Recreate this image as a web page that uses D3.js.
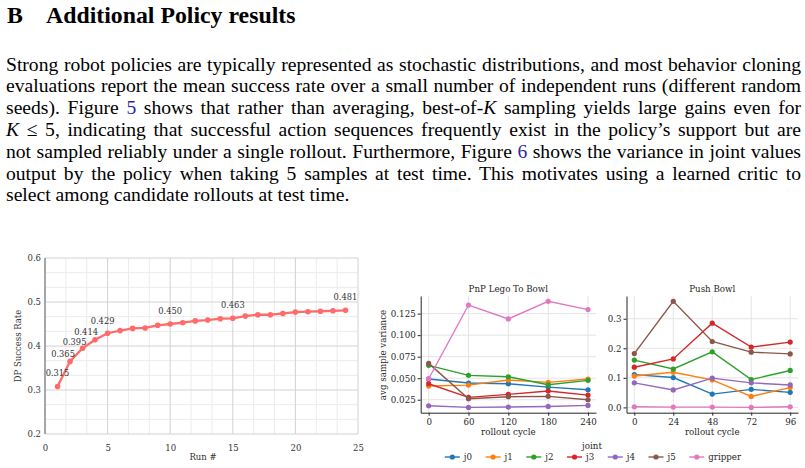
<!DOCTYPE html>
<html>
<head>
<meta charset="utf-8">
<script src="https://cdn.jsdelivr.net/npm/d3@7"></script>
<style>
body { margin: 0; background: #fff; }
svg { display: block; }
</style>
</head>
<body>
<script>
// ---- left chart: best-of-K success rate
var runs = [1, 2, 3, 4, 5, 6, 7, 8, 9, 10, 11, 12, 13, 14, 15, 16, 17, 18, 19, 20, 21, 22, 23, 24];
var successRate = [0.308, 0.365, 0.395, 0.414, 0.429, 0.435, 0.440, 0.441, 0.447, 0.450, 0.453, 0.457,
                   0.459, 0.462, 0.463, 0.468, 0.471, 0.471, 0.474, 0.477, 0.478, 0.479, 0.480, 0.481];
var labelRuns = [1, 2, 3, 4, 5, 10, 15, 24];
var labelTexts = ["0.315", "0.365", "0.395", "0.414", "0.429", "0.450", "0.463", "0.481"];
var leftXTicks = [0, 5, 10, 15, 20, 25];
var leftYTicks = [0.2, 0.3, 0.4, 0.5, 0.6];

// ---- right charts: joint variance
var joints = ["j0", "j1", "j2", "j3", "j4", "j5", "gripper"];
var jointColors = ["#1f77b4", "#ff7f0e", "#2ca02c", "#d62728", "#9467bd", "#8c564b", "#e377c2"];
var pnpCycles = [0, 60, 120, 180, 240];
var pnpVariance = [
  [0.0490, 0.0444, 0.0436, 0.0397, 0.0366],
  [0.0409, 0.0420, 0.0479, 0.0452, 0.0490],
  [0.0649, 0.0533, 0.0517, 0.0424, 0.0475],
  [0.0436, 0.0277, 0.0312, 0.0351, 0.0304],
  [0.0180, 0.0161, 0.0165, 0.0172, 0.0184],
  [0.0672, 0.0262, 0.0285, 0.0289, 0.0250],
  [0.0494, 0.1350, 0.1188, 0.1393, 0.1297]
];
var pnpYTicks = [0.025, 0.050, 0.075, 0.100, 0.125];
var pushCycles = [0, 24, 48, 72, 96];
var pushVariance = [
  [0.111, 0.101, 0.045, 0.061, 0.051],
  [0.106, 0.119, 0.093, 0.037, 0.067],
  [0.160, 0.130, 0.188, 0.094, 0.125],
  [0.136, 0.164, 0.285, 0.204, 0.221],
  [0.083, 0.059, 0.099, 0.083, 0.076],
  [0.182, 0.359, 0.223, 0.187, 0.181],
  [0.002, 0.001, 0.001, 0.000, 0.002]
];
var pushYTicks = [0.0, 0.1, 0.2, 0.3];

// ---- text
var heading = ["B", "Additional Policy results"];
var paraLines = [
  [["Strong robot policies are typically represented as stochastic distributions, and most behavior cloning"]],
  [["evaluations report the mean success rate over a small number of independent runs (different random"]],
  [["seeds). Figure "], ["5", "ref"], [" shows that rather than averaging, best-of-"], ["K", "i"], [" sampling yields large gains even for"]],
  [["K", "i"], [" \u2264 5, indicating that successful action sequences frequently exist in the policy\u2019s support but are"]],
  [["not sampled reliably under a single rollout. Furthermore, Figure "], ["6", "ref"], [" shows the variance in joint values"]],
  [["output by the policy when taking 5 samples at test time. This motivates using a learned critic to"]],
  [["select among candidate rollouts at test time."]]
];

var width = 805, height = 468;
var svg = d3.select("body").append("svg")
    .attr("width", width)
    .attr("height", height);

var serif = "'Liberation Serif', 'Times New Roman', serif";
var chartFont = "'DejaVu Serif', serif";

//heading
svg.append("text").attr("x", 7).attr("y", 23)
    .attr("font-family", serif).attr("font-weight", "bold").attr("font-size", 23.8)
    .text(heading[0]);
svg.append("text").attr("x", 46).attr("y", 23)
    .attr("font-family", serif).attr("font-weight", "bold").attr("font-size", 23.8)
    .text(heading[1]);

//paragraph, each line justified with word-spacing
var para = svg.append("g").attr("font-family", serif).attr("font-size", 19.6).attr("fill", "#000");
paraLines.forEach(function(segs, i) {
    var t = para.append("text")
        .attr("x", 6)
        .attr("y", 70.5 + i * 21.8)
        .style("white-space", "pre");
    segs.forEach(function(s) {
        t.append("tspan")
            .text(s[0])
            .attr("font-style", s[1] === "i" ? "italic" : null)
            .attr("fill", s[1] === "ref" ? "#2a2aa8" : null);
    });
    if (i < paraLines.length - 1) {
        var w = t.node().getComputedTextLength();
        var n = t.text().split(" ").length - 1;
        t.style("word-spacing", ((795 - w) / n) + "px");
    }
});

// ================= left chart =================
var xL = d3.scaleLinear().domain([0, 25]).range([45, 358]);
var yL = d3.scaleLinear().domain([0.2, 0.6]).range([434, 258]);

var left = svg.append("g").attr("font-family", chartFont);

//minor grid (3 steps per major)
var minorX = [], minorY = [];
for (var k = 0; k < leftXTicks.length - 1; k++) {
    var s = (leftXTicks[k + 1] - leftXTicks[k]) / 3;
    minorX.push(leftXTicks[k] + s, leftXTicks[k] + 2 * s);
}
for (var k = 0; k < leftYTicks.length - 1; k++) {
    var s = (leftYTicks[k + 1] - leftYTicks[k]) / 3;
    minorY.push(leftYTicks[k] + s, leftYTicks[k] + 2 * s);
}
left.append("g").selectAll("line").data(minorX).enter().append("line")
    .attr("x1", xL).attr("x2", xL).attr("y1", yL(0.2)).attr("y2", yL(0.6))
    .attr("stroke", "#ececec");
left.append("g").selectAll("line").data(minorY).enter().append("line")
    .attr("x1", xL(0)).attr("x2", xL(25)).attr("y1", yL).attr("y2", yL)
    .attr("stroke", "#ececec");
left.append("g").selectAll("line").data(leftXTicks).enter().append("line")
    .attr("x1", xL).attr("x2", xL).attr("y1", yL(0.2)).attr("y2", yL(0.6))
    .attr("stroke", "#d2d2d2");
left.append("g").selectAll("line").data(leftYTicks).enter().append("line")
    .attr("x1", xL(0)).attr("x2", xL(25)).attr("y1", yL).attr("y2", yL)
    .attr("stroke", "#d2d2d2");
//y axis line
left.append("line")
    .attr("x1", xL(0)).attr("x2", xL(0)).attr("y1", yL(0.6)).attr("y2", yL(0.2))
    .attr("stroke", "#8a8a8a").attr("stroke-width", 1.4);

var yAxisL = left.append("g")
    .attr("transform", "translate(" + xL(0) + ",0)")
    .call(d3.axisLeft(yL).tickValues(leftYTicks).tickSize(0).tickPadding(4).tickFormat(d3.format(".1f")));
var xAxisL = left.append("g")
    .attr("transform", "translate(0," + yL(0.2) + ")")
    .call(d3.axisBottom(xL).tickValues(leftXTicks).tickSize(0).tickPadding(11));
[yAxisL, xAxisL].forEach(function(a) {
    a.select(".domain").remove();
    a.selectAll("text").attr("font-family", chartFont).attr("font-size", 8.5).attr("fill", "#333");
});

left.append("text")
    .attr("transform", "translate(21,346) rotate(-90)")
    .attr("text-anchor", "middle").attr("font-size", 8.5).attr("fill", "#333")
    .text("DP Success Rate");
left.append("text")
    .attr("x", 203).attr("y", 460)
    .attr("text-anchor", "middle").attr("font-size", 8.5).attr("fill", "#333")
    .text("Run #");

var leftData = runs.map(function(r, i) { return {run: r, v: successRate[i]}; });
left.append("path")
    .datum(leftData)
    .attr("fill", "none")
    .attr("stroke", "#ff6b6b")
    .attr("stroke-width", 2.3)
    .attr("d", d3.line().x(function(d) { return xL(d.run); }).y(function(d) { return yL(d.v); }));
left.append("g").selectAll("circle").data(leftData).enter().append("circle")
    .attr("cx", function(d) { return xL(d.run); })
    .attr("cy", function(d) { return yL(d.v); })
    .attr("r", 2.8)
    .attr("fill", "#ff6b6b");

//value labels; the crowded early ones sit up-left and are staggered
function labelDx(r) {
    if (r === 1) return 0;
    if (r === 2) return -7;
    if (r === 3) return -8;
    if (r === 4) return -9;
    if (r === 5) return -5;
    return 0;
}
function labelDy(r) {
    if (r === 1) return -10;
    if (r === 2) return -4;
    if (r === 3) return -3;
    if (r === 4) return -5;
    if (r === 5) return -9;
    return -10;
}
left.append("g").selectAll("text").data(labelRuns).enter().append("text")
    .attr("x", function(r) { return xL(r) + labelDx(r); })
    .attr("y", function(r) { return yL(successRate[runs.indexOf(r)]) + labelDy(r); })
    .attr("text-anchor", "middle")
    .attr("font-size", 8.3)
    .attr("fill", "#333")
    .text(function(r, i) { return labelTexts[i]; });

// ================= right charts =================
function padded(ext) {
    var m = (ext[1] - ext[0]) * 0.05;
    return [ext[0] - m, ext[1] + m];
}

function drawPanel(opts) {
    var g = svg.append("g").attr("font-family", chartFont);
    var allV = [].concat.apply([], opts.values);
    var x = d3.scaleLinear().domain(padded(d3.extent(opts.cycles))).range([opts.x0, opts.x1]);
    var y = d3.scaleLinear().domain(padded(d3.extent(allV))).range([412.7, 296]);

    //grid
    g.append("g").selectAll("line").data(opts.cycles).enter().append("line")
        .attr("x1", x).attr("x2", x).attr("y1", y.range()[0]).attr("y2", y.range()[1])
        .attr("stroke", "#e4e4e4");
    g.append("g").selectAll("line").data(opts.yTicks).enter().append("line")
        .attr("x1", opts.x0).attr("x2", opts.x1).attr("y1", y).attr("y2", y)
        .attr("stroke", "#e4e4e4");

    var xa = g.append("g")
        .attr("transform", "translate(0,412.7)")
        .call(d3.axisBottom(x).tickValues(opts.cycles).tickSize(3).tickSizeOuter(0).tickPadding(3));
    var ya = g.append("g")
        .attr("transform", "translate(" + opts.x0 + ",0)")
        .call(d3.axisLeft(y).tickValues(opts.yTicks).tickSize(3).tickSizeOuter(0).tickPadding(2)
            .tickFormat(d3.format(opts.fmt)));
    [xa, ya].forEach(function(a) {
        a.select(".domain").attr("stroke", "#262626").attr("stroke-width", 1);
        a.selectAll(".tick line").attr("stroke", "#262626");
        a.selectAll("text").attr("font-family", chartFont).attr("font-size", 8.7).attr("fill", "#262626");
    });

    var line = d3.line()
        .x(function(d, i) { return x(opts.cycles[i]); })
        .y(function(d) { return y(d); });
    opts.values.forEach(function(vals, j) {
        g.append("path").datum(vals)
            .attr("fill", "none").attr("stroke", jointColors[j]).attr("stroke-width", 1.4)
            .attr("d", line);
        g.append("g").selectAll("circle").data(vals).enter().append("circle")
            .attr("cx", function(d, i) { return x(opts.cycles[i]); })
            .attr("cy", function(d) { return y(d); })
            .attr("r", 2.6)
            .attr("fill", jointColors[j]);
    });

    g.append("text")
        .attr("x", (opts.x0 + opts.x1) / 2).attr("y", 292)
        .attr("text-anchor", "middle").attr("font-size", 8.7).attr("fill", "#262626")
        .text(opts.title);
    g.append("text")
        .attr("x", (opts.x0 + opts.x1) / 2).attr("y", 434.5)
        .attr("text-anchor", "middle").attr("font-size", 8.7).attr("fill", "#262626")
        .text("rollout cycle");
    return g;
}

drawPanel({title: "PnP Lego To Bowl", cycles: pnpCycles, values: pnpVariance,
           yTicks: pnpYTicks, fmt: ".3f", x0: 420.7, x1: 596});
drawPanel({title: "Push Bowl", cycles: pushCycles, values: pushVariance,
           yTicks: pushYTicks, fmt: ".1f", x0: 626.5, x1: 798});

svg.append("text")
    .attr("transform", "translate(386,355) rotate(-90)")
    .attr("text-anchor", "middle")
    .attr("font-family", chartFont).attr("font-size", 8.7).attr("fill", "#262626")
    .text("avg sample variance");

//legend
var legend = svg.append("g").attr("font-family", chartFont).attr("font-size", 8.7).attr("fill", "#262626");
legend.append("text").attr("x", 592).attr("y", 449).attr("text-anchor", "middle").text("joint");
var items = legend.selectAll("g.item").data(joints).enter().append("g").attr("class", "item");
items.append("text").attr("y", 460).text(function(d) { return d; });
var widths = [];
items.select("text").each(function() { widths.push(this.getComputedTextLength()); });
var total = 0;
widths.forEach(function(w, i) { total += 15 + 4 + w + (i < widths.length - 1 ? 13.5 : 0); });
var cx = 593 - total / 2;
items.each(function(d, i) {
    var it = d3.select(this).attr("transform", "translate(" + cx + ",0)");
    it.insert("line", "text").attr("x1", 0).attr("x2", 15).attr("y1", 457).attr("y2", 457)
        .attr("stroke", jointColors[i]).attr("stroke-width", 1.4);
    it.insert("circle", "text").attr("cx", 7.5).attr("cy", 457).attr("r", 2.6).attr("fill", jointColors[i]);
    it.select("text").attr("x", 19);
    cx += 15 + 4 + widths[i] + 13.5;
});
</script>
</body>
</html>
